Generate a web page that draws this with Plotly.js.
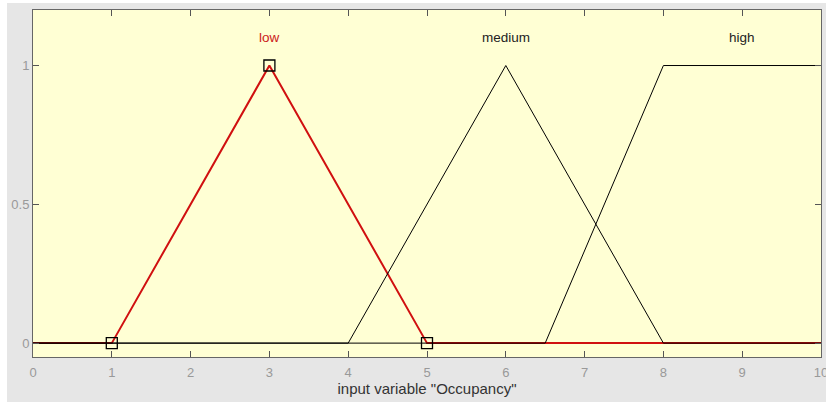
<!DOCTYPE html>
<html>
<head>
<meta charset="utf-8">
<script src="https://cdn.plot.ly/plotly-3.0.1.min.js"></script>
<style>
  html, body { margin: 0; padding: 0; background: #ffffff; }
  #bg { position: absolute; left: 7px; top: 3px; width: 819px; height: 399px; background: #e6e6e6; }
  #chart { position: absolute; left: 0; top: 0; width: 826px; height: 402px; }
</style>
</head>
<body>
<div id="bg"></div>
<div id="chart"></div>
<script>
// Membership functions of input variable "Occupancy"
const lowX = [0, 1, 3, 5, 10];
const lowY = [0, 0, 1, 0, 0];
const lowParamsX = [1, 3, 5];
const lowParamsY = [0, 1, 0];
const mediumX = [0, 4, 6, 8, 10];
const mediumY = [0, 0, 1, 0, 0];
const highX = [0, 6.5, 8, 10];
const highY = [0, 0, 1, 1];
const mfNames = ["low", "medium", "high"];
const mfLabelX = [3, 6, 9];
const xTicks = [0, 1, 2, 3, 4, 5, 6, 7, 8, 9, 10];
const yTicks = [0, 0.5, 1];
const yTickText = ["0", "0.5", "1"];

const traces = [
  { x: lowX, y: lowY, mode: "lines", line: { color: "#d01010", width: 2 }, hoverinfo: "skip" },
  { x: mediumX, y: mediumY, mode: "lines", line: { color: "#000000", width: 1 }, hoverinfo: "skip" },
  { x: highX, y: highY, mode: "lines", line: { color: "#000000", width: 1 }, hoverinfo: "skip" },
  { x: lowParamsX, y: lowParamsY, mode: "markers",
    marker: { symbol: "square-open", size: 11, color: "#000000", line: { width: 1.3, color: "#000000" } },
    hoverinfo: "skip" }
];

const labelColors = ["#cc2020", "#222222", "#222222"];
const annotations = mfNames.map((n, i) => ({
  x: mfLabelX[i], y: 1.1, xref: "x", yref: "y", text: n, showarrow: false,
  font: { family: "Liberation Sans, Arial, sans-serif", size: 13.5, color: labelColors[i] }
}));

const layout = {
  width: 826, height: 402,
  margin: { l: 33, r: 5, t: 10, b: 45 },
  paper_bgcolor: "rgba(0,0,0,0)",
  plot_bgcolor: "#ffffd4",
  showlegend: false,
  font: { family: "Liberation Sans, Arial, sans-serif" },
  xaxis: {
    range: [0, 10], tickvals: xTicks, ticktext: xTicks.map(String),
    ticks: "inside", ticklen: 6, tickcolor: "#555555", tickwidth: 1,
    showline: true, linecolor: "#666666", linewidth: 1, mirror: "ticks",
    showgrid: false, zeroline: false,
    ticklabeloverflow: "allow", ticklabelstandoff: 3,
    tickfont: { size: 13, color: "#999999" },
    title: { text: 'input variable "Occupancy"', standoff: 4,
             font: { size: 15, color: "#333333" } }
  },
  yaxis: {
    range: [-0.05, 1.2], tickvals: yTicks, ticktext: yTickText,
    ticks: "inside", ticklen: 6, tickcolor: "#555555", tickwidth: 1,
    showline: true, linecolor: "#666666", linewidth: 1, mirror: "ticks",
    showgrid: false, zeroline: false,
    tickfont: { size: 13, color: "#999999" }
  },
  annotations: annotations
};

Plotly.newPlot("chart", traces, layout, { staticPlot: true, displayModeBar: false });
</script>
</body>
</html>
